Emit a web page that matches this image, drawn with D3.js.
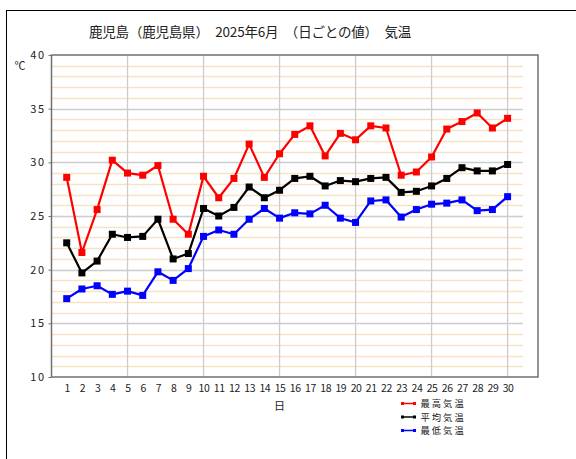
<!DOCTYPE html>
<html>
<head>
<meta charset="utf-8">
<script src="https://cdn.jsdelivr.net/npm/d3@7"></script>
<style>
  html, body { margin: 0; padding: 0; background: #fff; }
  svg { display: block; }
  text { font-family: "Noto Sans CJK JP", "Noto Sans", sans-serif; fill: #222; }
</style>
</head>
<body>
<svg id="chart" width="576" height="459"></svg>
<script>
// 鹿児島 2025年6月 日ごとの気温
const days = d3.range(1, 31);
const maxTemp = [28.6, 21.6, 25.6, 30.2, 29.0, 28.8, 29.7, 24.7, 23.3, 28.7,
                 26.7, 28.5, 31.7, 28.6, 30.8, 32.6, 33.4, 30.6, 32.7, 32.1,
                 33.4, 33.2, 28.8, 29.1, 30.5, 33.1, 33.8, 34.6, 33.2, 34.1];
const meanTemp = [22.5, 19.7, 20.8, 23.3, 23.0, 23.1, 24.7, 21.0, 21.5, 25.7,
                  25.0, 25.8, 27.7, 26.7, 27.4, 28.5, 28.7, 27.8, 28.3, 28.2,
                  28.5, 28.6, 27.2, 27.3, 27.8, 28.5, 29.5, 29.2, 29.2, 29.8];
const minTemp = [17.3, 18.2, 18.5, 17.7, 18.0, 17.6, 19.8, 19.0, 20.1, 23.1,
                 23.7, 23.3, 24.7, 25.7, 24.8, 25.3, 25.2, 26.0, 24.8, 24.4,
                 26.4, 26.5, 24.9, 25.6, 26.1, 26.2, 26.5, 25.5, 25.6, 26.8];
const yTicks = [10, 15, 20, 25, 30, 35, 40];
const seriesNames = ["最高気温", "平均気温", "最低気温"];
const seriesColors = ["#ff0000", "#000000", "#0000ff"];
const title = "鹿児島（鹿児島県）　2025年6月　（日ごとの値）　気温";

const svg = d3.select("#chart");

// outer frame
svg.append("rect")
  .attr("x", 6.5).attr("y", 10.5)
  .attr("width", 600).attr("height", 500)
  .attr("fill", "none").attr("stroke", "#000").attr("stroke-width", 1);

const x = d3.scaleLinear().domain([0, 32]).range([51.5, 538]);
const y = d3.scaleLinear().domain([10, 40]).range([377, 55]);

// title
svg.append("text")
  .attr("x", 250).attr("y", 37)
  .attr("text-anchor", "middle")
  .attr("font-size", 13.5)
  .attr("letter-spacing", -0.2)
  .text(title);

// unit label
svg.append("text")
  .attr("x", 20).attr("y", 70)
  .attr("text-anchor", "middle")
  .attr("font-size", 11)
  .text("℃");

const grid = svg.append("g");

// minor horizontal grid every 1 degree
const minor = d3.range(11, 40).filter(v => v % 5 !== 0);
grid.selectAll("line.minor").data(minor).join("line")
  .attr("x1", x(0)).attr("x2", x(31))
  .attr("y1", d => Math.round(y(d)) + 0.5).attr("y2", d => Math.round(y(d)) + 0.5)
  .attr("stroke", "#f6e3c3").attr("stroke-width", 1.5);

// major horizontal grid every 5 degrees
grid.selectAll("line.major").data(yTicks.filter(v => v > 10 && v < 40)).join("line")
  .attr("x1", x(0)).attr("x2", x(31))
  .attr("y1", d => Math.round(y(d)) + 0.5).attr("y2", d => Math.round(y(d)) + 0.5)
  .attr("stroke", "#cccccc").attr("stroke-width", 1.3);

// vertical grid every 5 days
grid.selectAll("line.vgrid").data([5, 10, 15, 20, 25, 30]).join("line")
  .attr("x1", d => x(d)).attr("x2", d => x(d))
  .attr("y1", y(40)).attr("y2", y(10))
  .attr("stroke", "#cccccc").attr("stroke-width", 1.3);

// plot border
svg.append("rect")
  .attr("x", x(0)).attr("y", y(40))
  .attr("width", x(32) - x(0)).attr("height", y(10) - y(40))
  .attr("fill", "none").attr("stroke", "#707070").attr("stroke-width", 1.5);

// y axis labels
const yAxis = d3.axisLeft(y).tickValues(yTicks).tickSize(3).tickPadding(3);
const gy = svg.append("g").attr("transform", `translate(${x(0)},0)`).call(yAxis);
gy.select(".domain").remove();
gy.selectAll(".tick line").attr("stroke", "#707070");
gy.selectAll(".tick text")
  .attr("font-size", 11).attr("letter-spacing", 1.5)
  .attr("font-family", '"Noto Sans CJK JP", sans-serif').attr("fill", "#222");

// x axis labels
const xAxis = d3.axisBottom(x).tickValues(days).tickSize(0).tickPadding(8)
  .tickFormat(d3.format("d"));
const gx = svg.append("g").attr("transform", `translate(0,${y(10)})`).call(xAxis);
gx.select(".domain").remove();
gx.selectAll(".tick text")
  .attr("font-size", 10.5).attr("letter-spacing", -0.4)
  .attr("font-family", '"Noto Sans CJK JP", sans-serif').attr("fill", "#222");

svg.append("text")
  .attr("x", x(15)).attr("y", 410)
  .attr("text-anchor", "middle")
  .attr("font-size", 11)
  .text("日");

// series lines and markers
const seriesData = [maxTemp, meanTemp, minTemp];
const line = d3.line().x((d, i) => x(days[i])).y(d => y(d));
seriesData.forEach((vals, k) => {
  const g = svg.append("g");
  g.append("path").datum(vals)
    .attr("d", line)
    .attr("fill", "none")
    .attr("stroke", seriesColors[k])
    .attr("stroke-width", 2.2)
    .attr("stroke-linejoin", "round");
  g.selectAll("rect").data(vals).join("rect")
    .attr("x", (d, i) => x(days[i]) - 3.5)
    .attr("y", d => y(d) - 3.5)
    .attr("width", 7).attr("height", 7)
    .attr("fill", seriesColors[k]);
});

// legend
const legend = svg.append("g");
const legendTop = 403.5, legendStep = 13.5;
seriesNames.forEach((name, k) => {
  const ly = legendTop + k * legendStep;
  legend.append("line")
    .attr("x1", 402.5).attr("x2", 414.5)
    .attr("y1", ly).attr("y2", ly)
    .attr("stroke", seriesColors[k]).attr("stroke-width", 1.5);
  [402.5, 414.5].forEach(px => {
    legend.append("rect")
      .attr("x", px - 1.5).attr("y", ly - 1.5)
      .attr("width", 3).attr("height", 3)
      .attr("fill", seriesColors[k]);
  });
  legend.append("text")
    .attr("x", 420.5).attr("y", ly + 3.6)
    .attr("font-size", 9.3)
    .attr("letter-spacing", 2)
    .text(name);
});
</script>
</body>
</html>
